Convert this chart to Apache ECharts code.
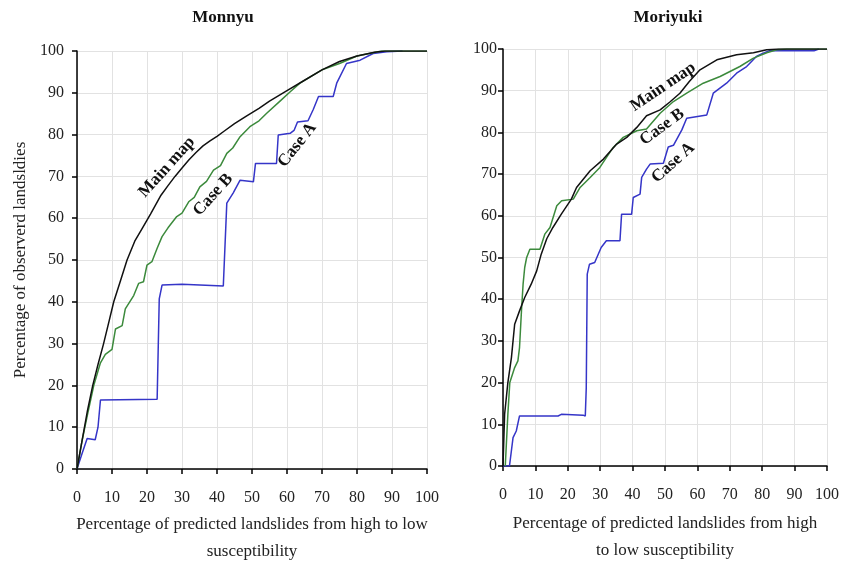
<!DOCTYPE html>
<html>
<head>
<meta charset="utf-8">
<script src="https://cdn.jsdelivr.net/npm/echarts@6/dist/echarts.min.js"></script>
<style>
  html, body { margin: 0; padding: 0; background: #fff; }
  #chart { width: 853px; height: 564px; }
</style>
</head>
<body>
<div id="chart"></div>
<script>
// Monnyu: [percentage predicted, percentage observed]
const monnyuMain = [[0,0],[1.5,7],[3,14],[4.5,20],[6,25],[7.6,30],[9.2,35.5],[10.5,40],[12.4,45],[14.3,50],[16.5,54.5],[18.6,57.5],[21,61],[24,65.5],[26,67.8],[28,70],[30,72],[32,74],[34,75.7],[36,77.3],[38,78.5],[40,79.6],[42,80.8],[45,82.6],[48.5,84.5],[52,86.3],[55,88],[60,90.5],[65,93],[70,95.5],[75,97.5],[80,98.8],[85,99.7],[88,100],[100,100]]
const monnyuCaseB = [[0,0],[1.5,7],[3,13],[4.8,20],[6.7,25.4],[8.1,27.4],[10,28.6],[11,33.5],[12.9,34.3],[13.8,38.3],[16.2,41.5],[17.6,44.4],[19,44.8],[20,48.8],[21.4,49.6],[22.9,52.8],[24.3,55.6],[26,57.7],[28.5,60.4],[30,61.2],[32,64],[33.5,65],[35.1,67.5],[37,68.8],[39,71.5],[41,72.6],[42.8,75.5],[44.5,76.8],[46.6,79.5],[49.4,81.9],[52,83.3],[54.2,85.1],[58,88],[61,90.3],[63.7,92.3],[67,94],[70,95.5],[75,97],[80,98.8],[84.6,99.6],[87,100],[100,100]]
const monnyuCaseA = [[0,0],[1.4,3.6],[2.9,7.3],[5.2,7],[6,10],[6.7,16.5],[7.1,16.7],[22.9,16.7],[23.5,40.7],[24.3,44],[30,44.2],[41.8,43.8],[42.8,63.6],[44.6,66],[46.6,69.1],[50.4,68.7],[51,73.1],[57,73.1],[57.5,79.9],[60.9,80.3],[62,81],[63,83],[66,83.3],[67.5,86],[69,89.1],[73.2,89.1],[74.2,92.3],[77,97],[80.9,97.8],[84.6,99.4],[88.5,99.8],[93,100]]

// Moriyuki
const moriyukiMain = [[0,0],[0.5,12.4],[1.5,20],[2.6,26],[3.1,30],[3.6,34],[5.1,37.2],[6.7,40.4],[8.7,43.6],[10.4,46.8],[11.8,50.8],[13.5,54.5],[15.4,57.2],[18,60.4],[21.1,64],[22.7,66.8],[26.9,70.8],[31,73.6],[35.1,77.2],[38.2,78.8],[41.3,81.2],[44.3,84],[48.5,85.4],[51.5,87.3],[54.6,89.4],[57.5,92.2],[60.8,95],[66,97.4],[72.1,98.6],[77.3,99.1],[81.4,99.8],[85,100],[100,100]]
const moriyukiCaseB = [[0.7,0],[1.5,12.4],[2.1,20],[3.6,23.6],[4.6,25.2],[5.1,28.4],[5.7,37.2],[6.2,43.6],[6.7,47.6],[7.3,50],[8.3,52],[11.4,52],[12.9,55.6],[14.5,57.2],[16.6,62.4],[18.1,63.6],[21.7,64],[23.8,66.8],[26.9,69.2],[29.9,71.6],[34,76.4],[37.1,78.8],[41.3,80.4],[44.3,80.8],[48.5,84.6],[52.6,87.4],[56.7,89.4],[61.8,91.8],[67,93.4],[73.1,95.8],[77.3,97.8],[81.4,99.1],[84.5,99.8],[87.6,100],[100,100]]
const moriyukiCaseA = [[0,0],[2,0],[3.1,6.8],[4.1,8.4],[5.1,12],[17,12],[18,12.4],[24.7,12.2],[25.4,12],[25.7,18.8],[26,46],[26.7,48.4],[28.3,48.8],[30.3,52.4],[31.9,54],[36.1,54],[36.6,60.4],[39.7,60.4],[40.2,64.4],[42.3,65.2],[42.8,69.2],[44.3,71.2],[45.4,72.4],[49.5,72.6],[51,76.5],[52.6,76.9],[55.2,80.6],[56.7,83.4],[62.9,84.2],[64.9,89.4],[69,91.8],[72.1,94.2],[75.2,95.8],[78.2,98.2],[80.3,99],[82.3,99.6],[96,99.6],[97.5,100]]

// curve label text, anchor [x, y], rotation
const monnyuLabels = [['Main map', [25.7, 72.2], 48], ['Case B', [38.9, 65.6], 48], ['Case A', [62.9, 77.5], 52]]
const moriyukiLabels = [['Main map', [49.4, 90.9], 34], ['Case B', [49.1, 81.3], 36], ['Case A', [52.5, 72.7], 42]]

const titles = ['Monnyu', 'Moriyuki']
const yName = 'Percentage of observerd landsldies'
const xNames = ['Percentage of predicted landslides from high to low\nsusceptibility',
                'Percentage of predicted landslides from high\nto low susceptibility']

const serif = '"Liberation Serif", "DejaVu Serif", serif'
const colors = { main: '#111111', caseB: '#3c8a3c', caseA: '#3535c8' }

function valueAxis(gridIndex, extra) {
  return Object.assign({
    type: 'value', gridIndex, min: 0, max: 100, interval: 10,
    axisLine: { show: true, lineStyle: { color: '#000', width: 1.5 } },
    axisTick: { show: true, inside: false, length: 5, lineStyle: { color: '#000', width: 1.5 } },
    splitLine: { show: true, lineStyle: { color: '#e2e2e2', width: 1 } },
    axisLabel: { color: '#222', fontFamily: serif, fontSize: 16 }
  }, extra)
}

function labelPoints(list) {
  return {
    symbol: 'rect', symbolSize: 1, itemStyle: { color: 'rgba(0,0,0,0)' },
    data: list.map(([text, coord, rot]) => ({
      coord, value: text,
      label: {
        show: true, position: 'inside', formatter: text, rotate: rot,
        fontFamily: serif, fontWeight: 'bold', fontSize: 17, color: '#111'
      }
    }))
  }
}

function line(data, color, gridIdx, marks) {
  const s = {
    type: 'line', data, xAxisIndex: gridIdx, yAxisIndex: gridIdx,
    showSymbol: false, symbol: 'none', animation: false,
    lineStyle: { color, width: 1.5 }, itemStyle: { color }
  }
  if (marks) s.markPoint = marks
  return s
}

const chart = echarts.init(document.getElementById('chart'), null, { renderer: 'canvas' })

const xLabel = { color: '#222', fontFamily: serif, fontSize: 16, margin: 21 }
const xNameStyle = { fontFamily: serif, fontSize: 17, color: '#222', lineHeight: 27 }

const option = {
  backgroundColor: '#fff',
  animation: false,
  title: [
    { text: titles[0], left: 218, top: 4, textAlign: 'center',
      textStyle: { fontFamily: serif, fontWeight: 'bold', fontSize: 17, color: '#111' } },
    { text: titles[1], left: 663, top: 4, textAlign: 'center',
      textStyle: { fontFamily: serif, fontWeight: 'bold', fontSize: 17, color: '#111' } }
  ],
  grid: [
    { left: 77, top: 51, width: 350, height: 418, outerBoundsMode: 'none', containLabel: false },
    { left: 503, top: 49, width: 324, height: 417, outerBoundsMode: 'none', containLabel: false }
  ],
  xAxis: [
    valueAxis(0, { name: xNames[0], nameLocation: 'middle', nameGap: 42,
      axisLabel: xLabel, nameTextStyle: xNameStyle }),
    valueAxis(1, { name: xNames[1], nameLocation: 'middle', nameGap: 44,
      axisLabel: xLabel, nameTextStyle: xNameStyle })
  ],
  yAxis: [
    valueAxis(0, { name: yName, nameLocation: 'middle', nameGap: 48,
      axisLabel: { color: '#222', fontFamily: serif, fontSize: 16, margin: 13 },
      nameTextStyle: { fontFamily: serif, fontSize: 17, color: '#222' } }),
    valueAxis(1, { axisLabel: { color: '#222', fontFamily: serif, fontSize: 16, margin: 6 } })
  ],
  series: [
    line(monnyuCaseA, colors.caseA, 0),
    line(monnyuCaseB, colors.caseB, 0),
    line(monnyuMain, colors.main, 0, labelPoints(monnyuLabels)),
    line(moriyukiCaseA, colors.caseA, 1),
    line(moriyukiCaseB, colors.caseB, 1),
    line(moriyukiMain, colors.main, 1, labelPoints(moriyukiLabels))
  ]
}

chart.setOption(option)
</script>
</body>
</html>
